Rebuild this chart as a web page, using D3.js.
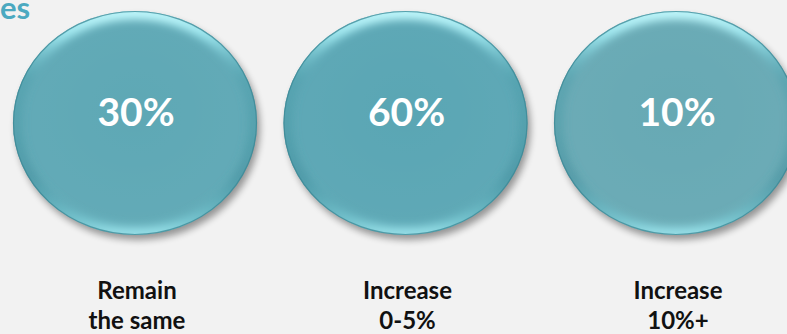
<!DOCTYPE html>
<html>
<head>
<meta charset="utf-8">
<script src="https://cdn.jsdelivr.net/npm/d3@7"></script>
<style>
  html, body { margin: 0; padding: 0; background: #f2f2f2; }
  svg { display: block; }
</style>
</head>
<body>
<svg id="chart" width="787" height="334"></svg>
<script>
// Share of respondents by expected change
const categories = ["Remain the same", "Increase 0-5%", "Increase 10%+"];
const labelLines = [["Remain", "the same"], ["Increase", "0-5%"], ["Increase", "10%+"]];
const shares = [30, 60, 10];
const fills = ["#5ea8b5", "#5aa6b4", "#67a9b4"];
const titleText = "es";

const W = 787, H = 334;
const svg = d3.select("#chart");
const defs = svg.append("defs");

const x = d3.scalePoint().domain(categories).range([135, 676]);
const cy = 123, rx = 122, ry = 112;

// soft drop shadow
defs.append("filter").attr("id", "shadow")
  .attr("x", "-20%").attr("y", "-20%").attr("width", "140%").attr("height", "140%")
  .append("feGaussianBlur").attr("stdDeviation", 3.5);

// blur used for the inner bevel
defs.append("filter").attr("id", "bevelBlur")
  .attr("x", "-20%").attr("y", "-20%").attr("width", "140%").attr("height", "140%")
  .append("feGaussianBlur").attr("stdDeviation", 4);

// bevel colour: bright cyan on top, deeper teal on the sides, light again on the bottom edge
const bevel = defs.append("linearGradient").attr("id", "bevel")
  .attr("x1", 0).attr("y1", 0).attr("x2", 0).attr("y2", 1);
[[0, "#c4fbff", 1], [0.1, "#9fe8f0", 1], [0.3, "#4d9fac", 0.5],
 [0.75, "#3f8f9d", 0.5], [0.95, "#7fd0da", 0.8], [1, "#9ce4ec", 1]]
  .forEach(([o, c, a]) => bevel.append("stop").attr("offset", o).attr("stop-color", c).attr("stop-opacity", a));

// subtle radial shading of the face
const face = defs.append("radialGradient").attr("id", "face")
  .attr("cx", "50%").attr("cy", "45%").attr("r", "60%");
face.append("stop").attr("offset", 0).attr("stop-color", "#ffffff").attr("stop-opacity", 0.0);
face.append("stop").attr("offset", 0.8).attr("stop-color", "#ffffff").attr("stop-opacity", 0.03);
face.append("stop").attr("offset", 1).attr("stop-color", "#000000").attr("stop-opacity", 0.08);

defs.append("clipPath").attr("id", "ellClip")
  .append("ellipse").attr("cx", 0).attr("cy", 0).attr("rx", rx).attr("ry", ry);

const data = categories.map((c, i) => ({ cat: c, value: shares[i], fill: fills[i], lines: labelLines[i] }));

const g = svg.selectAll("g.bubble").data(data).join("g")
  .attr("class", "bubble")
  .attr("transform", d => `translate(${x(d.cat)},${cy})`);

g.append("ellipse")
  .attr("cx", 3).attr("cy", 5).attr("rx", rx).attr("ry", ry)
  .attr("fill", "#000").attr("opacity", 0.38)
  .attr("filter", "url(#shadow)");

g.append("ellipse")
  .attr("rx", rx).attr("ry", ry)
  .attr("fill", d => d.fill);

g.append("ellipse")
  .attr("rx", rx).attr("ry", ry)
  .attr("fill", "url(#face)");

const inner = g.append("g").attr("clip-path", "url(#ellClip)");
inner.append("ellipse")
  .attr("rx", rx - 2).attr("ry", ry - 2)
  .attr("fill", "none")
  .attr("stroke", "url(#bevel)")
  .attr("stroke-width", 13)
  .attr("filter", "url(#bevelBlur)");

g.append("ellipse")
  .attr("rx", rx - 0.5).attr("ry", ry - 0.5)
  .attr("fill", "none")
  .attr("stroke", "#3b8794")
  .attr("stroke-opacity", 0.75)
  .attr("stroke-width", 1.2);

g.append("text")
  .attr("x", 1).attr("y", 3)
  .attr("text-anchor", "middle")
  .attr("font-family", "Lato, 'Open Sans', sans-serif")
  .attr("font-weight", 700)
  .attr("font-size", 39)
  .attr("fill", "#ffffff")
  .text(d => d.value + "%");

// category labels under each bubble
const lab = svg.selectAll("text.cat").data(data).join("text")
  .attr("class", "cat")
  .attr("x", d => x(d.cat) + 2)
  .attr("y", 299)
  .attr("text-anchor", "middle")
  .attr("font-family", "Lato, 'Open Sans', sans-serif")
  .attr("font-weight", 700)
  .attr("font-size", 24)
  .attr("fill", "#111111");
lab.selectAll("tspan").data(d => d.lines.map(t => ({ t, cx: x(d.cat) + 2 }))).join("tspan")
  .attr("x", d => d.cx)
  .attr("dy", (d, i) => i === 0 ? 0 : 30)
  .text(d => d.t);

// heading
svg.append("text")
  .attr("x", 0).attr("y", 19)
  .attr("font-family", "Lato, 'Open Sans', sans-serif")
  .attr("font-weight", 700)
  .attr("font-size", 31)
  .attr("fill", "#4ba9c0")
  .text(titleText);
</script>
</body>
</html>
